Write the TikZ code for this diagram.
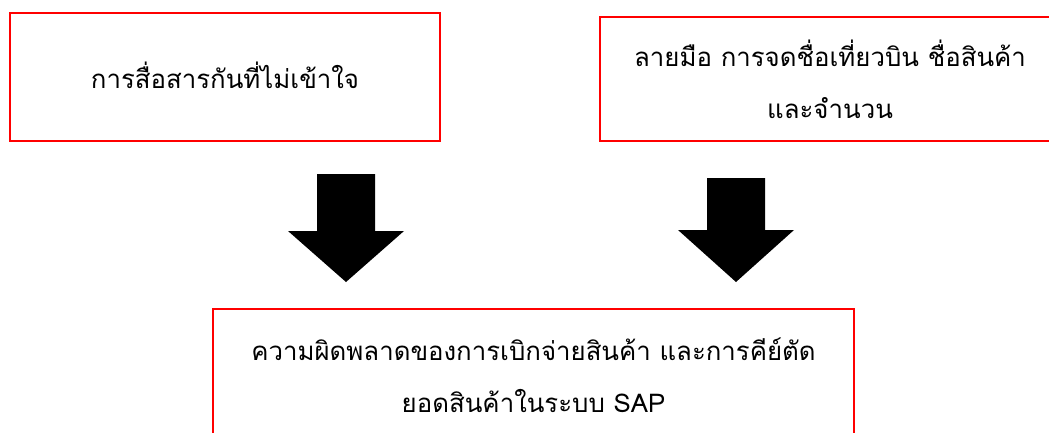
\documentclass[tikz,border=0pt]{standalone}
\usepackage{fontspec}
\newfontfamily\thaifont[Script=Thai]{Loma}
\begin{document}
\begin{tikzpicture}[x=1pt,y=-1pt,
  redbox/.style={draw=red,line width=2.8pt,fill=none,inner sep=0pt,align=center,font=\thaifont\fontsize{25.8}{52}\selectfont},
  blockarrow/.style={fill=black,draw=none}]
\useasboundingbox (0,0) rectangle (1049,432);
\clip (0,0) rectangle (1049,432);
\node[redbox,minimum width=430pt,minimum height=128pt] (a) at (225,77) {\raisebox{4pt}{การสื่อสารกันที่ไม่เข้าใจ}};
\node[redbox,minimum width=460pt,minimum height=124pt] (b) at (830,79) {ลายมือ การจดชื่อเที่ยวบิน ชื่อสินค้า\\และจำนวน};
\node[redbox,minimum width=641pt,minimum height=132pt] (c) at (533.5,375) {ความผิดพลาดของการเบิกจ่ายสินค้า และการคีย์ตัด\\ยอดสินค้าในระบบ SAP};
\fill[blockarrow] (317,174) -- (375,174) -- (375,231) -- (404,231) -- (346,282) -- (288,231) -- (317,231) -- cycle;
\fill[blockarrow] (707,178) -- (765,178) -- (765,230) -- (794,230) -- (736,282) -- (678,230) -- (707,230) -- cycle;
\end{tikzpicture}
\end{document}
